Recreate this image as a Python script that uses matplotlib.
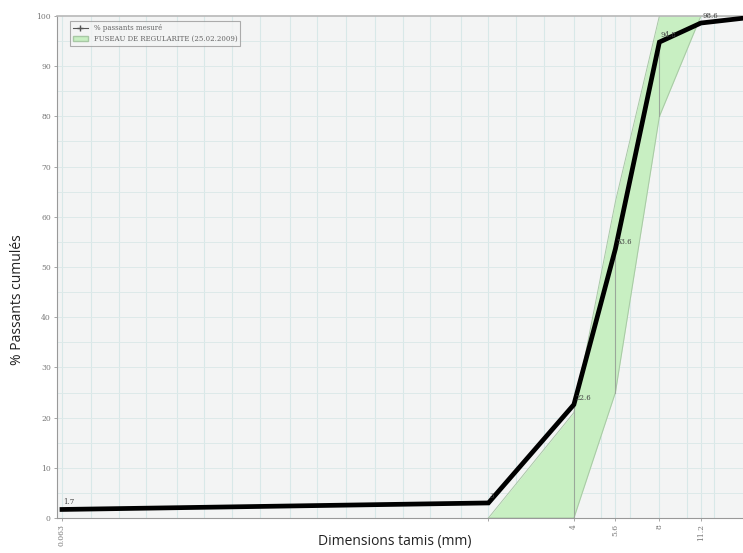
import matplotlib
matplotlib.use("Agg")
import matplotlib.pyplot as plt
from matplotlib.patches import Patch, Rectangle
from matplotlib.lines import Line2D
import numpy as np

# measured passing curve
sieves = [0.063, 2, 4, 5.6, 8, 11.2, 16]
passing = [1.7, 3.0, 22.6, 53.6, 94.8, 98.6, 99.6]
point_labels = ["1.7", "3", "22.6", "53.6", "94.8", "98.6", ""]

# grading envelope (fuseau)
env_upper_x = [2, 4, 5.6, 8, 16]
env_upper_y = [0, 21, 63, 100, 100]
env_lower_x = [2, 4, 5.6, 8, 11.2, 16]
env_lower_y = [0, 0, 25, 80, 100, 100]

grid_sieves = [0.063, 0.08, 0.1, 0.125, 0.16, 0.2, 0.25, 0.315, 0.4, 0.5, 0.63,
               0.8, 1, 1.25, 1.6, 2, 2.5, 3.15, 4, 5, 5.6, 6.3, 8, 10, 11.2, 12.5, 16]
xtick_vals = [0.063, 2, 4, 5.6, 8, 11.2]
xtick_txt = ["0.063", "2", "4", "5.6", "8", "11.2"]
ytick_vals = list(range(0, 101, 10))

fig = plt.figure(figsize=(7.43, 5.53), dpi=100)
ax = fig.add_axes([57 / 743, 35 / 553, 1 - 57 / 743, 502 / 553])
ax.set_facecolor("#f3f4f4")

ax.set_xscale("log")
ax.set_xlim(0.0605, 15.76)
ax.set_ylim(0, 100)

# grid
for s in grid_sieves:
    ax.axvline(s, color="#d8e8e8", lw=0.8, zorder=0)
for v in range(5, 100, 5):
    ax.axhline(v, color="#dde9e9", lw=0.7, zorder=0)

# envelope fill
xs = np.array(sorted(set(env_upper_x + env_lower_x)))
up = np.interp(np.log(xs), np.log(env_upper_x), env_upper_y)
lo = np.interp(np.log(xs), np.log(env_lower_x), env_lower_y)
ax.fill_between(xs, lo, up, color="#c8efc2", zorder=1, lw=0)
ax.plot(env_upper_x, env_upper_y, color="#a8c8a5", lw=0.7, zorder=1)
ax.plot(env_lower_x, env_lower_y, color="#a8c8a5", lw=0.7, zorder=1)

# drop lines from measured points to lower envelope
for s, p in zip(sieves[2:5], passing[2:5]):
    low = np.interp(np.log(s), np.log(env_lower_x), env_lower_y)
    ax.plot([s, s], [low, p], color="#9aa89a", lw=0.8, zorder=1.5)

# measured curve
ax.plot(sieves, passing, color="black", lw=3.4, zorder=3, solid_joinstyle="miter")
for s, p, t in zip(sieves, passing, point_labels):
    if t:
        ax.text(s * 1.01, p + 0.6, t, fontsize=5, color="#444444", family="DejaVu Serif",
                ha="left", va="bottom", zorder=4)

# ticks
ax.set_xticks(xtick_vals)
ax.set_xticklabels(xtick_txt, rotation=90, fontsize=5.5, color="#777777",
                   family="DejaVu Serif")
ax.xaxis.set_minor_locator(matplotlib.ticker.NullLocator())
ax.set_yticks(ytick_vals)
ax.set_yticklabels([str(v) for v in ytick_vals], fontsize=5.5, color="#777777",
                   family="DejaVu Serif")
ax.tick_params(axis="both", length=2.5, width=0.6, color="#999999", pad=2)

for side in ["left", "bottom"]:
    ax.spines[side].set_color("#999999")
    ax.spines[side].set_linewidth(0.8)
ax.spines["top"].set_color("#b8b8b8")
ax.spines["top"].set_linewidth(1.2)
ax.spines["right"].set_visible(False)

# legend
handles = [Line2D([0], [0], color="#555555", lw=0.8, marker="+", markersize=4),
           Patch(facecolor="#c8efc2", edgecolor="#a8c8a5")]
leg = ax.legend(handles, ["% passants mesuré", "FUSEAU DE REGULARITE (25.02.2009)"],
                loc="upper left", bbox_to_anchor=(0.014, 0.996),
                prop={"family": "DejaVu Serif", "size": 5}, frameon=True,
                fancybox=False, borderpad=0.4, handlelength=2.2, labelspacing=0.4)
leg.get_frame().set_edgecolor("#999999")
leg.get_frame().set_linewidth(0.8)
leg.get_frame().set_facecolor("#f3f4f4")
for t in leg.get_texts():
    t.set_color("#666666")

# white box behind the x title (covers the pasted-over tick labels)
fig.patches.append(Rectangle((260 / 743, 0), 270 / 743, 29 / 553,
                             transform=fig.transFigure, facecolor="white",
                             edgecolor="none", zorder=5))
fig.text(395 / 743, 1 - 541 / 553, "Dimensions tamis (mm)", fontsize=10,
         family="Open Sans", color="#222222", ha="center", va="center", zorder=6)
fig.text(18 / 743, 1 - 300 / 553, "% Passants cumulés", fontsize=10,
         family="Open Sans", color="#222222", ha="center", va="center",
         rotation=90)

fig.savefig("out.png", dpi=100)
